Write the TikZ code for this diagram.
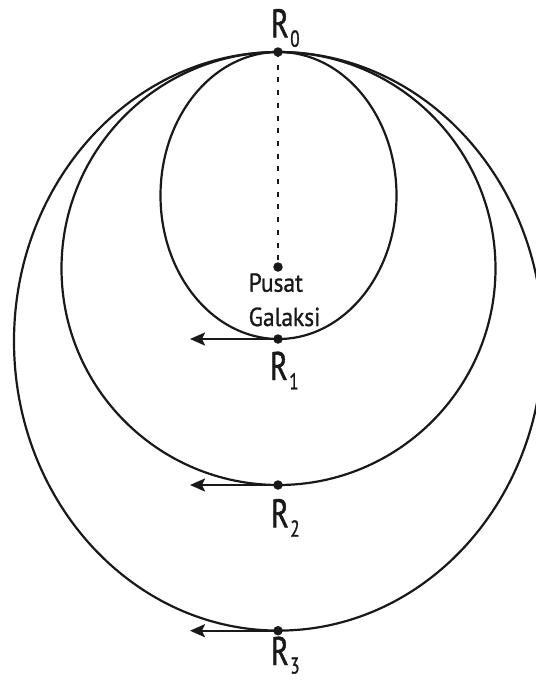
\documentclass[tikz,border=0pt]{standalone}
\usepackage{fontspec}
\setmainfont{PT Sans}
\newfontfamily\labfont[FakeStretch=0.74,FakeBold=1.2]{PT Sans}
\newfontfamily\txtfont[FakeStretch=0.9,FakeBold=1]{PT Sans}
\usetikzlibrary{arrows.meta}
\tikzset{
  orbit/.style={draw=black!90, line width=2.2pt},
  dot/.style={circle, fill=black!90, inner sep=0pt, minimum size=9.5pt},
  vel/.style={draw=black!90, line width=2.2pt, -{Stealth[length=15pt,width=13pt,inset=3pt]}},
  axis/.style={draw=black!90, line width=2.6pt, dash pattern=on 5pt off 7.7pt},
  rlab/.style={anchor=base west, inner sep=0pt, font=\labfont\fontsize{40}{40}\selectfont, text=black!90},
  ptext/.style={anchor=base west, inner sep=0pt, font=\txtfont\fontsize{26}{26}\selectfont, text=black!90}
}
\newcommand{\rsub}[2][9.4pt]{R\kern1.5pt\raisebox{-#1}{\fontsize{23}{23}\selectfont #2}}
\begin{document}
\begin{tikzpicture}[x=1pt,y=-1pt]
\useasboundingbox (0,0) rectangle (536,681);
\clip (0,0) rectangle (536,681);
% orbits
\draw[orbit] (278.5,195.5) ellipse [x radius=118, y radius=143.5];
\draw[orbit] (278.5,268.5) ellipse [x radius=217, y radius=216.5];
\draw[orbit] (278.5,341.3) ellipse [x radius=264.5, y radius=289.3];
% points
\node[dot] (r0) at (278,52) {};
\node[dot] (pc) at (278,267) {};
\node[dot] (r1) at (278,339) {};
\node[dot] (r2) at (278,485) {};
\node[dot] (r3) at (278,630.7) {};
\coordinate (a1) at (190,339);
\coordinate (a2) at (190,485);
\coordinate (a3) at (190,630.7);
% dotted axis
\draw[axis] (r0.center) -- (pc.center);
% velocity arrows
\draw[vel] (r1.center) -- (a1);
\draw[vel] (r2.center) -- (a2);
\draw[vel] (r3.center) -- (a3);
% labels
\node[rlab] (l0) at (271,37.3) {\rsub{0}};
\node[rlab] (l1) at (270,380) {\rsub{1}};
\node[rlab] (l2) at (271,527.3) {\rsub{2}};
\node[rlab] (l3) at (271,665) {\rsub[8.5pt]{3}};
\node[ptext] (t1) at (248.5,291.7) {Pusat};
\node[ptext] (t2) at (248.5,326) {Galaksi};
\end{tikzpicture}
\end{document}
